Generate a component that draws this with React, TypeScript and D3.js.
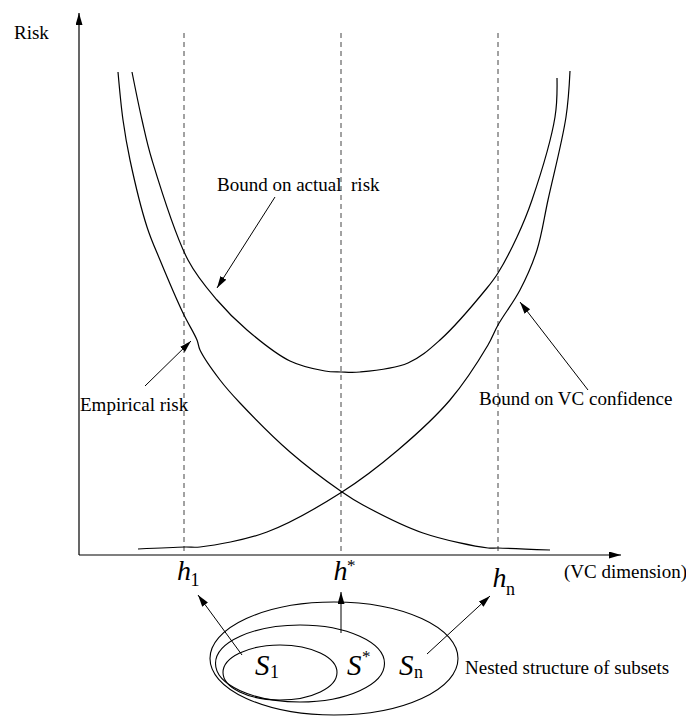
import React from 'react';
import * as d3 from 'd3';

// VC-dimension (x) and risk (y) readings, arbitrary units
const empiricalRisk: [number, number][] = [
  [39, 483], [44, 435], [51, 395], [68, 328], [81, 295], [104, 242], [118, 215], [121, 205],
  [141, 175], [161, 152], [211, 103], [263, 63], [284, 50], [344, 22], [409, 7], [419, 7], [471, 5],
];
const boundActualRisk: [number, number][] = [
  [53, 483], [63, 435], [73, 395], [109, 295], [138, 255], [168, 225], [211, 194], [246, 184],
  [262, 183], [281, 183], [329, 192], [361, 215], [408, 267], [419, 282], [438, 318], [453, 355],
  [476, 438], [478, 477],
];
const vcConfidence: [number, number][] = [
  [59, 6], [106, 8], [121, 8], [188, 23], [263, 63], [319, 105], [371, 155], [409, 210],
  [419, 230], [441, 265], [458, 305], [469, 355], [487, 438], [491, 484],
];
const hValues = [105, 262, 419];
const hSubs = ['1', '*', 'n'];
const sLabels = ['1', '*', 'n'];
const curveNames = ['Bound on actual  risk', 'Empirical risk', 'Bound on VC confidence'];
const axisLabels = ['Risk', '(VC dimension)'];
const nestedLabel = 'Nested structure of subsets';

const W = 686;
const H = 716;
const FONT = '"Liberation Serif", "Times New Roman", Times, serif';

export default function App() {
  const x = d3.scaleLinear().domain([0, 542]).range([79, 621]);
  const y = d3.scaleLinear().domain([0, 542]).range([555, 13]);
  const line = d3
    .line<[number, number]>()
    .x((d) => x(d[0]))
    .y((d) => y(d[1]))
    .curve(d3.curveCatmullRom.alpha(0.5));

  const stroke = '#000';
  const lw = 1.2;

  const ellipses = [
    { cx: 280, cy: 672.5, rx: 57, ry: 27.5 },
    { cx: 300, cy: 663.5, rx: 84.5, ry: 38.5 },
    { cx: 334, cy: 658.5, rx: 124, ry: 56.5 },
  ];

  const hPos = [
    { dx: -7, base: 580, subDy: 6 },
    { dx: -7.5, base: 580, subDy: -9 },
    { dx: -5.5, base: 587, subDy: 8 },
  ];

  const arrows = [
    { x1: 275, y1: 197, x2: 217, y2: 288 },
    { x1: 145, y1: 386, x2: 191, y2: 341 },
    { x1: 588, y1: 390, x2: 520, y2: 302 },
    { x1: 242, y1: 655, x2: 198, y2: 595 },
    { x1: 341, y1: 633, x2: 341, y2: 592 },
    { x1: 427, y1: 654, x2: 490, y2: 596 },
  ];

  const sPos = [
    { x: 255, base: 675, subDy: 3 },
    { x: 347, base: 675, subDy: -13 },
    { x: 399, base: 675, subDy: 3 },
  ];

  return (
    <svg
      width={W}
      height={H}
      viewBox={`0 0 ${W} ${H}`}
      style={{ position: 'absolute', left: 0, top: 0, background: '#fff' }}
      fontFamily={FONT}
    >
      <defs>
        <marker
          id="ah"
          markerUnits="userSpaceOnUse"
          markerWidth={13}
          markerHeight={8}
          refX={12}
          refY={3.5}
          orient="auto"
        >
          <path d="M0,0 L12,3.5 L0,7 Z" fill="#000" />
        </marker>
      </defs>
      <rect width={W} height={H} fill="#fff" />

      {/* dashed h lines */}
      {hValues.map((h, i) => (
        <line
          key={'d' + i}
          x1={x(h)}
          x2={x(h)}
          y1={y(522)}
          y2={y(0)}
          stroke="#444"
          strokeWidth={1}
          strokeDasharray="5,4"
        />
      ))}

      {/* axes */}
      <line x1={x(0)} y1={y(0)} x2={x(0)} y2={y(542)} stroke={stroke} strokeWidth={1.2} markerEnd="url(#ah)" />
      <line x1={x(0)} y1={y(0)} x2={x(542)} y2={y(0)} stroke={stroke} strokeWidth={1.2} markerEnd="url(#ah)" />

      {/* curves */}
      {[empiricalRisk, boundActualRisk, vcConfidence].map((s, i) => (
        <path key={'c' + i} d={line(s) || ''} fill="none" stroke={stroke} strokeWidth={lw} />
      ))}

      {/* arrows */}
      {arrows.map((a, i) => (
        <line key={'a' + i} {...a} stroke={stroke} strokeWidth={1} markerEnd="url(#ah)" />
      ))}

      {/* text labels */}
      <text x={14} y={39} fontSize={19}>{axisLabels[0]}</text>
      <text x={564} y={578} fontSize={19}>{axisLabels[1]}</text>
      <text x={217} y={191} fontSize={19} style={{ whiteSpace: 'pre' }}>{curveNames[0]}</text>
      <text x={80} y={411} fontSize={19}>{curveNames[1]}</text>
      <text x={479} y={405} fontSize={19}>{curveNames[2]}</text>
      <text x={465} y={674} fontSize={19}>{nestedLabel}</text>

      {/* h labels */}
      {hValues.map((h, i) => (
        <g key={'h' + i}>
          <text x={x(h) + hPos[i].dx} y={hPos[i].base} fontSize={28} fontStyle="italic">h</text>
          <text x={x(h) + hPos[i].dx + 13.5} y={hPos[i].base + hPos[i].subDy} fontSize={hSubs[i] === '*' ? 17 : 18}>
            {hSubs[i]}
          </text>
        </g>
      ))}

      {/* nested subsets */}
      {ellipses.map((e, i) => (
        <ellipse key={'e' + i} {...e} fill="none" stroke={stroke} strokeWidth={1.1} />
      ))}
      {sLabels.map((s, i) => (
        <g key={'s' + i}>
          <text x={sPos[i].x} y={sPos[i].base} fontSize={29} fontStyle="italic">S</text>
          <text x={sPos[i].x + 15} y={sPos[i].base + sPos[i].subDy} fontSize={s === '*' ? 17 : 18}>
            {s}
          </text>
        </g>
      ))}
    </svg>
  );
}
